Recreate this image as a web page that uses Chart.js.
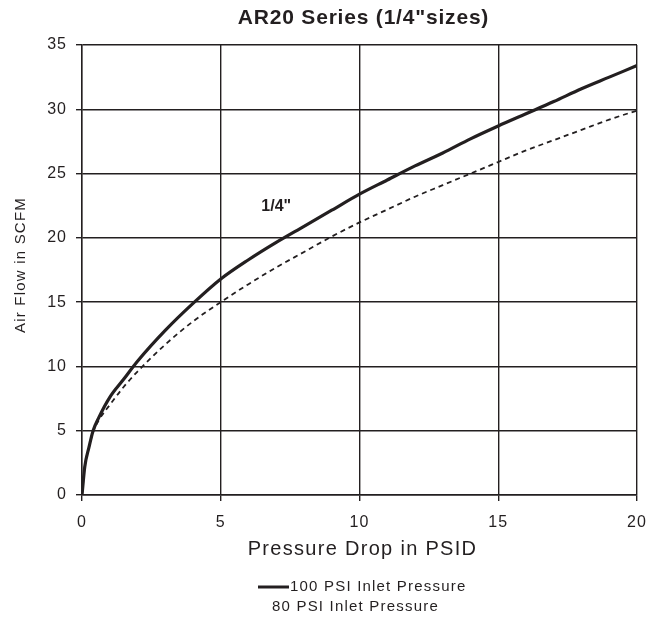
<!DOCTYPE html>
<html>
<head>
<meta charset="utf-8">
<script src="https://cdn.jsdelivr.net/npm/chart.js@4/dist/chart.umd.min.js"></script>
<style>
  body { margin: 0; background: #fff; }
  #wrap { width: 657px; height: 618px; }
</style>
</head>
<body>
<div id="wrap"><canvas id="flow-chart" width="657" height="618"></canvas></div>
<script>
'use strict';

// pressure drop (PSID)
const pressureDrop = [0, 0.1, 0.25, 0.4, 0.6, 1, 1.5, 2, 3, 4, 5, 6, 7, 8, 9, 10, 11, 12, 13, 14, 15, 16, 17, 18, 19, 20];
// air flow (SCFM)
const flow100 = [0, 2.2, 3.7, 5.0, 6.0, 7.6, 9.0, 10.4, 12.8, 14.9, 16.8, 18.3, 19.65, 20.9, 22.15, 23.4, 24.5, 25.6, 26.6, 27.7, 28.7, 29.65, 30.6, 31.6, 32.5, 33.4];
const flow80 = [0, 2.2, 3.7, 4.9, 5.8, 7.0, 8.4, 9.6, 11.7, 13.5, 15.0, 16.4, 17.7, 18.9, 20.1, 21.2, 22.2, 23.2, 24.1, 25.0, 25.9, 26.8, 27.6, 28.4, 29.2, 29.9];
const seriesNames = ['100 PSI Inlet Pressure', '80 PSI Inlet Pressure'];
const curveLabel = { text: '1/4"', x: 7.0, y: 22.4 };
const titleText = 'AR20 Series (1/4"sizes)';
const xTitle = 'Pressure Drop in PSID';
const yTitle = 'Air Flow in SCFM';

const ink = '#231f20';
const fontFamily = '"Liberation Sans", Arial, sans-serif';

const toPoints = function (ys) {
    let pts = [];
    for (let i = 0; i < pressureDrop.length; i++) {
        pts.push({ x: pressureDrop[i], y: ys[i] });
    }
    return pts;
};

// the source uses slightly spaced lettering everywhere
const spacingPlugin = {
    id: 'spacing',
    beforeUpdate: function (chart) { chart.ctx.letterSpacing = '1px'; },
    beforeDraw: function (chart) { chart.ctx.letterSpacing = '1px'; }
};

// titles, the "1/4"" tag and the legend
const extrasPlugin = {
    id: 'extras',
    afterDraw: function (chart) {
        const ctx = chart.ctx;
        const xs = chart.scales.x;
        const ys = chart.scales.y;
        const area = chart.chartArea;
        const midX = (area.left + area.right) / 2 + 4;
        ctx.save();
        ctx.fillStyle = ink;
        ctx.textBaseline = 'middle';
        ctx.textAlign = 'center';

        ctx.letterSpacing = '0.8px';
        ctx.font = 'bold 21px ' + fontFamily;
        ctx.fillText(titleText, midX, 18);

        ctx.letterSpacing = '1.3px';
        ctx.font = '20px ' + fontFamily;
        ctx.fillText(xTitle, midX - 1, 549);

        ctx.save();
        ctx.translate(21, (area.top + area.bottom) / 2 - 5);
        ctx.rotate(-Math.PI / 2);
        ctx.letterSpacing = '1.2px';
        ctx.font = '15px ' + fontFamily;
        ctx.fillText(yTitle, 0, 0);
        ctx.restore();

        ctx.letterSpacing = '0px';
        ctx.font = 'bold 16px ' + fontFamily;
        ctx.fillText(curveLabel.text, xs.getPixelForValue(curveLabel.x), ys.getPixelForValue(curveLabel.y));

        // legend
        ctx.letterSpacing = '1.2px';
        ctx.font = '15px ' + fontFamily;
        ctx.textAlign = 'left';
        ctx.strokeStyle = ink;
        ctx.lineWidth = 3;
        ctx.beginPath();
        ctx.moveTo(258, 587);
        ctx.lineTo(289, 587);
        ctx.stroke();
        ctx.fillText(seriesNames[0], 290, 587);
        ctx.fillText(seriesNames[1], 272, 607);
        ctx.restore();
    }
};

const chart = new Chart(document.querySelector('#flow-chart'), {
    type: 'line',
    data: {
        datasets: [{
            label: seriesNames[0],
            data: toPoints(flow100),
            borderColor: ink,
            borderWidth: 3.2,
            pointRadius: 0,
            cubicInterpolationMode: 'monotone'
        }, {
            label: seriesNames[1],
            data: toPoints(flow80),
            borderColor: ink,
            borderWidth: 1.8,
            borderDash: [5, 4],
            pointRadius: 0,
            cubicInterpolationMode: 'monotone'
        }]
    },
    options: {
        responsive: false,
        animation: false,
        layout: { padding: { left: 0, right: 20, top: 45, bottom: 0 } },
        plugins: {
            legend: { display: false },
            tooltip: { enabled: false },
            title: { display: false }
        },
        scales: {
            x: {
                type: 'linear',
                min: 0,
                max: 20,
                ticks: {
                    stepSize: 5,
                    color: ink,
                    padding: 12,
                    font: { family: fontFamily, size: 16 }
                },
                grid: { color: ink, lineWidth: 1.4, tickLength: 6 },
                border: { color: ink, width: 1.4 },
                afterFit: function (scale) {
                    scale.height = 123;
                    scale.paddingLeft = 0;
                    scale.paddingRight = 0;
                }
            },
            y: {
                min: 0,
                max: 35,
                ticks: {
                    stepSize: 5,
                    color: ink,
                    padding: 9,
                    font: { family: fontFamily, size: 16 }
                },
                grid: { color: ink, lineWidth: 1.4, tickLength: 6 },
                border: { color: ink, width: 1.4 },
                afterFit: function (scale) {
                    scale.width = 82;
                    scale.paddingTop = 0;
                    scale.paddingBottom = 0;
                }
            }
        }
    },
    plugins: [spacingPlugin, extrasPlugin]
});
</script>
</body>
</html>
